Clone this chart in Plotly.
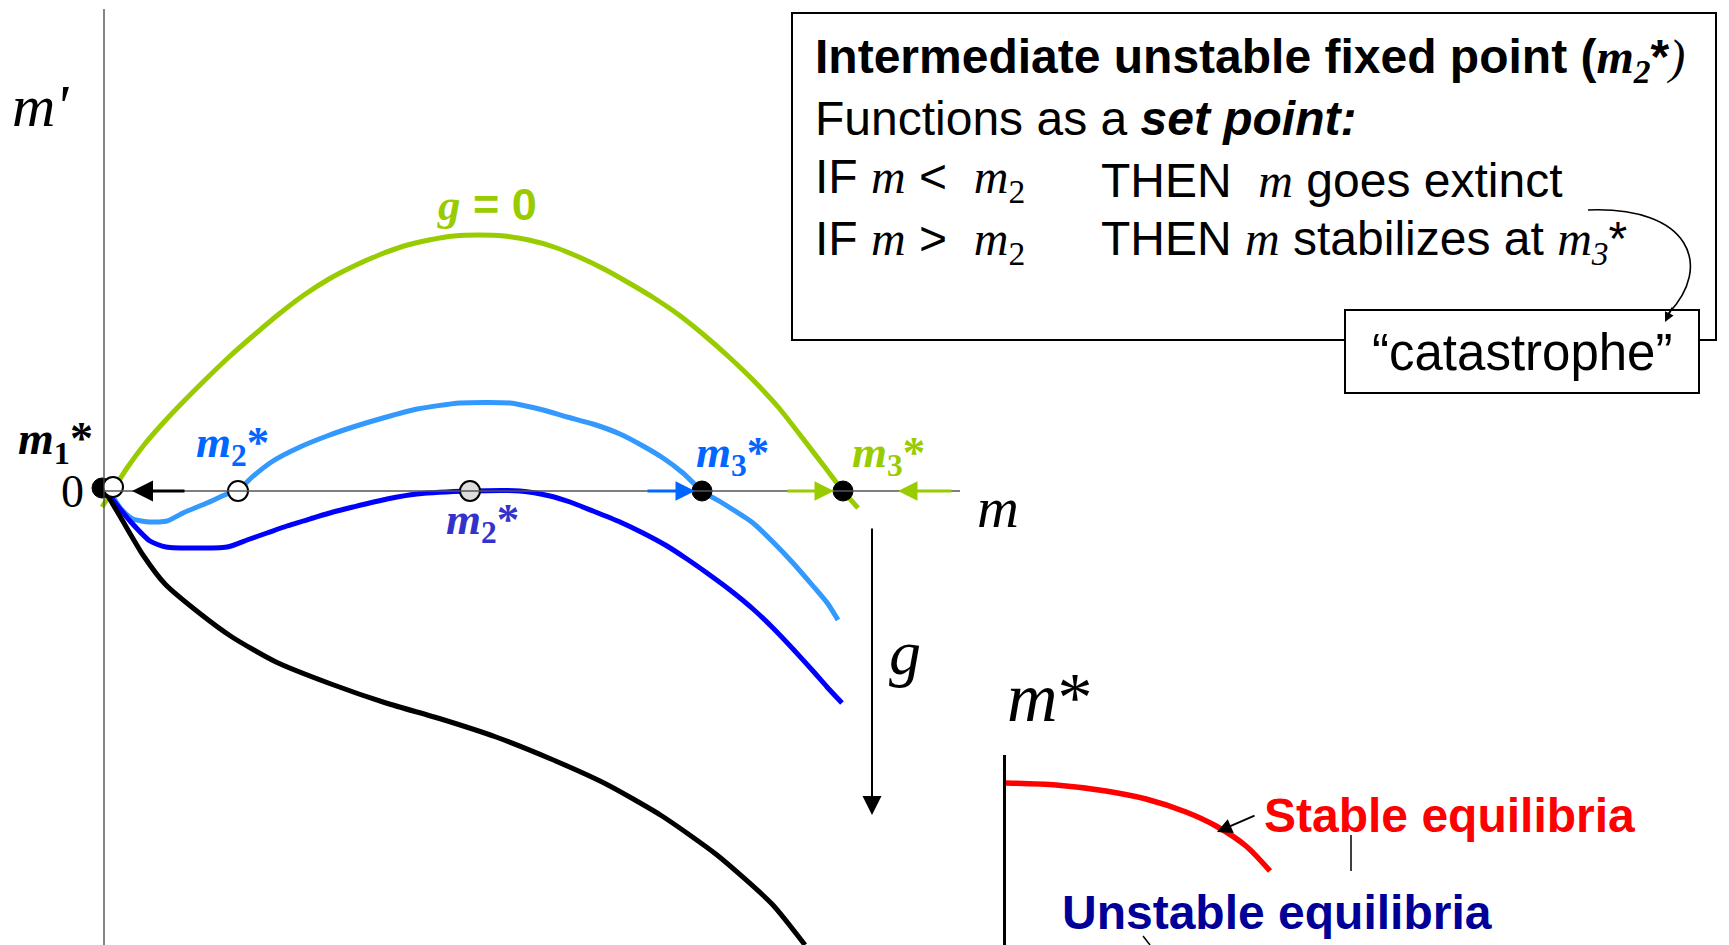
import plotly.graph_objects as go

W, H = 1729, 945

# ---- phase-line curves: growth rate m' against population m, for rising harvest g ----
m_g0 = [-0.02, 0.09, 0.23, 0.40, 0.60, 0.80, 1.00, 1.25, 1.50, 1.75, 2.00, 2.25, 2.50, 2.75,
        3.00, 3.25, 3.50, 3.75, 4.00, 4.25, 4.50, 4.75, 5.00, 5.25, 5.50, 5.75, 6.00, 6.25,
        6.50, 6.75, 7.00, 7.20, 7.39, 7.54]
dm_g0 = [-0.16, 0.01, 0.23, 0.46, 0.69, 0.90, 1.10, 1.34, 1.56, 1.77, 1.96, 2.12, 2.25, 2.36,
         2.45, 2.51, 2.55, 2.56, 2.55, 2.51, 2.44, 2.34, 2.22, 2.08, 1.93, 1.76, 1.56, 1.34,
         1.10, 0.83, 0.51, 0.25, 0.00, -0.17]

m_g1 = [0.09, 0.18, 0.29, 0.46, 0.63, 0.79, 1.03, 1.23, 1.34, 1.46, 1.69, 1.96, 2.23, 2.49,
        2.79, 3.13, 3.56, 4.06, 4.39, 4.63, 4.89, 5.16, 5.39, 5.59, 5.79, 5.98, 6.20, 6.49,
        6.69, 6.89, 7.09, 7.24, 7.34]
dm_g1 = [-0.06, -0.19, -0.28, -0.31, -0.30, -0.22, -0.12, -0.03, 0.0, 0.12, 0.30, 0.44, 0.55,
         0.64, 0.73, 0.82, 0.88, 0.88, 0.81, 0.74, 0.67, 0.57, 0.45, 0.33, 0.18, 0.0, -0.13,
         -0.32, -0.51, -0.72, -0.95, -1.13, -1.29]

m_g2 = [0.03, 0.09, 0.26, 0.46, 0.62, 1.23, 1.43, 1.63, 1.83, 2.09, 2.29, 2.49, 2.83, 3.13,
        3.66, 4.16, 4.46, 4.66, 4.89, 5.16, 5.39, 5.63, 5.83, 6.03, 6.26, 6.49, 6.69, 6.89,
        7.09, 7.23, 7.38]
dm_g2 = [-0.02, -0.09, -0.30, -0.50, -0.56, -0.56, -0.49, -0.42, -0.35, -0.27, -0.21, -0.16,
         -0.08, -0.03, 0.0, 0.0, -0.05, -0.11, -0.20, -0.31, -0.42, -0.55, -0.68, -0.82, -0.99,
         -1.18, -1.37, -1.58, -1.80, -1.96, -2.12]

m_g3 = [0.01, 0.17, 0.39, 0.61, 0.94, 1.28, 1.72, 2.27, 2.82, 3.37, 3.92, 4.47, 5.02, 5.58,
        6.13, 6.68, 7.01]
dm_g3 = [0.00, -0.27, -0.64, -0.93, -1.21, -1.46, -1.71, -1.93, -2.12, -2.28, -2.46, -2.68,
         -2.93, -3.25, -3.64, -4.13, -4.54]

# fixed points on the m axis
stable_m = [-0.02, 5.98, 7.39]
stable_dm = [0.03, 0.0, 0.0]
unstable_m = [0.09, 1.34]
unstable_dm = [0.04, 0.0]
saddle_m = [3.66]
saddle_dm = [0.0]

# ---- bifurcation inset: stable equilibrium m* against g ----
g_stable = [0.0, 0.5, 1.0, 1.4, 1.8, 2.1, 2.4, 2.64]
mstar_stable = [1.62, 1.60, 1.54, 1.46, 1.33, 1.19, 0.99, 0.74]

GREEN = "#99CC00"
LIGHTBLUE = "#3399FF"
BLUE = "#0000FF"
LABELBLUE = "#0066FF"
DARKLABEL = "#3333CC"
SERIF = "Liberation Serif"
SANS = "Liberation Sans"


# figure pixel -> main-axis units (axis origin sits at pixel 104, 491; 100 px per unit)
def X(px):
    return (px - 104) / 100.0


def Y(py):
    return (491 - py) / 100.0


fig = go.Figure()

curve_specs = [
    (m_g0, dm_g0, GREEN),
    (m_g1, dm_g1, LIGHTBLUE),
    (m_g2, dm_g2, BLUE),
    (m_g3, dm_g3, "#000000"),
]
for xs, ys, col in curve_specs:
    fig.add_trace(go.Scatter(x=xs, y=ys, mode="lines",
                             line=dict(color=col, width=5, shape="spline", smoothing=0.6),
                             hoverinfo="skip", showlegend=False))

fig.add_trace(go.Scatter(x=stable_m, y=stable_dm, mode="markers",
                         marker=dict(size=20, color="black", line=dict(color="black", width=1)),
                         showlegend=False, hoverinfo="skip"))
fig.add_trace(go.Scatter(x=unstable_m, y=unstable_dm, mode="markers",
                         marker=dict(size=20, color="white", line=dict(color="black", width=2)),
                         showlegend=False, hoverinfo="skip"))
fig.add_trace(go.Scatter(x=saddle_m, y=saddle_dm, mode="markers",
                         marker=dict(size=20, color="#DDDDDD", line=dict(color="black", width=2)),
                         showlegend=False, hoverinfo="skip"))

fig.add_trace(go.Scatter(x=g_stable, y=mstar_stable, mode="lines", xaxis="x2", yaxis="y2",
                         line=dict(color="#FF0000", width=5.5, shape="spline", smoothing=0.8),
                         showlegend=False, hoverinfo="skip"))

shapes = [
    # m' axis and m axis
    dict(type="line", x0=X(104), y0=Y(9), x1=X(104), y1=Y(945), line=dict(color="#444", width=1.3)),
    dict(type="line", x0=X(104), y0=0, x1=X(960), y1=0, line=dict(color="#555", width=1.3)),
    # text box and the "catastrophe" box on top of it
    dict(type="rect", x0=X(792), y0=Y(13), x1=X(1716), y1=Y(340),
         line=dict(color="black", width=2), fillcolor="rgba(0,0,0,0)", layer="above"),
    dict(type="rect", x0=X(1345), y0=Y(310), x1=X(1699), y1=Y(393),
         line=dict(color="black", width=2), fillcolor="white", layer="above"),
    # curved pointer towards "catastrophe"
    dict(type="path",
         path="M {},{} C {},{} {},{} {},{}".format(X(1588), Y(210), X(1690), Y(206),
                                                 X(1714), Y(266), X(1668), Y(314)),
         line=dict(color="black", width=1.6), layer="above"),
    # leader lines near the inset labels
    dict(type="line", x0=X(1351), y0=Y(835), x1=X(1351), y1=Y(871), line=dict(color="black", width=1.5)),
    dict(type="line", x0=X(1143), y0=Y(936), x1=X(1150), y1=Y(945), line=dict(color="black", width=1.5)),
]

ann = []


def text(px, py, s, size, color="black", family=SANS, xanchor="center", yanchor="middle"):
    ann.append(dict(x=X(px), y=Y(py), xref="x", yref="y", text=s, showarrow=False,
                    font=dict(size=size, color=color, family=family),
                    xanchor=xanchor, yanchor=yanchor))


def arrow(hx, hy, tx, ty, color, width, size=1.0):
    ann.append(dict(x=X(hx), y=Y(hy), xref="x", yref="y", ax=tx - hx, ay=ty - hy,
                    axref="pixel", ayref="pixel", text="", showarrow=True, arrowhead=2,
                    arrowsize=size, arrowwidth=width, arrowcolor=color, standoff=0))


def serif(s):
    return "<span style='font-family:Liberation Serif'>" + s + "</span>"


# axis labels
text(40, 106, "<i>m'</i>", 60, family=SERIF)
text(998, 507, "<i>m</i>", 58, family=SERIF)
text(72, 491, "0", 46, family=SERIF)
text(905, 652, "<i>g</i>", 64, family=SERIF)
text(1050, 697, "<i>m</i>*", 70, family=SERIF)

# curve and fixed-point labels
text(487, 204, serif("<b><i>g</i></b>") + "<b> = 0</b>", 45, GREEN)
text(55, 442, "<b><i>m</i><sub>1</sub>*</b>", 46, family=SERIF)
text(232, 445, "<b><i>m</i><sub>2</sub>*</b>", 45, LABELBLUE, SERIF)
text(482, 522, "<b><i>m</i><sub>2</sub>*</b>", 45, DARKLABEL, SERIF)
text(732, 455, "<b><i>m</i><sub>3</sub>*</b>", 45, LABELBLUE, SERIF)
text(888, 455, "<b><i>m</i><sub>3</sub>*</b>", 45, GREEN, SERIF)

# flow arrows along the m axis
arrow(132, 491, 186, 491, "black", 3, 1.4)
arrow(695, 491, 646, 491, LABELBLUE, 3, 1.3)
arrow(834, 491, 786, 491, GREEN, 3, 1.3)
arrow(898, 491, 953, 491, GREEN, 3, 1.3)
# direction of increasing g
arrow(872, 815, 872, 527, "black", 2, 1.9)

# text box
LX = 813
FS = 48
text(LX, 60, "<b>Intermediate unstable fixed point (" + serif("<i>m</i><sub><i>2</i></sub>")
     + "*</b>" + serif("<i>)</i>"), FS, xanchor="left")
text(LX, 118, "Functions as a <b><i>set point:</i></b>", FS, xanchor="left")
text(LX, 180, "IF " + serif("<i>m</i>") + " &lt;  " + serif("<i>m</i><sub>2</sub>"), FS, xanchor="left")
text(LX, 242, "IF " + serif("<i>m</i>") + " &gt;  " + serif("<i>m</i><sub>2</sub>"), FS, xanchor="left")
text(1099, 180, "THEN  " + serif("<i>m</i>") + " goes extinct", FS, xanchor="left")
text(1099, 242, "THEN " + serif("<i>m</i>") + " stabilizes at " + serif("<i>m</i><sub><i>3</i></sub>") + "*",
     FS, xanchor="left")
text(1522, 352, "\u201ccatastrophe\u201d", 51)
arrow(1665, 322, 1673, 306, "black", 1.6, 1.2)

# inset labels
text(1449, 815, "<b>Stable equilibria</b>", 48, "#FF0000")
text(1277, 912, "<b>Unstable equilibria</b>", 48, "#000099")
arrow(1217, 832, 1256, 815, "black", 2, 1.5)

fig.update_layout(
    width=W, height=H,
    margin=dict(l=0, r=0, t=0, b=0),
    paper_bgcolor="white", plot_bgcolor="white",
    xaxis=dict(domain=[0, 1], range=[X(0), X(W)], visible=False, fixedrange=True),
    yaxis=dict(domain=[0, 1], range=[Y(H), Y(0)], visible=False, fixedrange=True),
    xaxis2=dict(domain=[1006 / W, 1], range=[0, (W - 1006) / 100.0], visible=False,
                anchor="y2", fixedrange=True),
    yaxis2=dict(domain=[0, 1 - 755 / H], range=[0, (945 - 755) / 100.0], anchor="x2",
                showline=True, linecolor="black", linewidth=2.5, showticklabels=False,
                ticks="", showgrid=False, zeroline=False, fixedrange=True),
    shapes=shapes,
    annotations=ann,
    font=dict(family=SANS),
)

fig.write_html("out.html")
